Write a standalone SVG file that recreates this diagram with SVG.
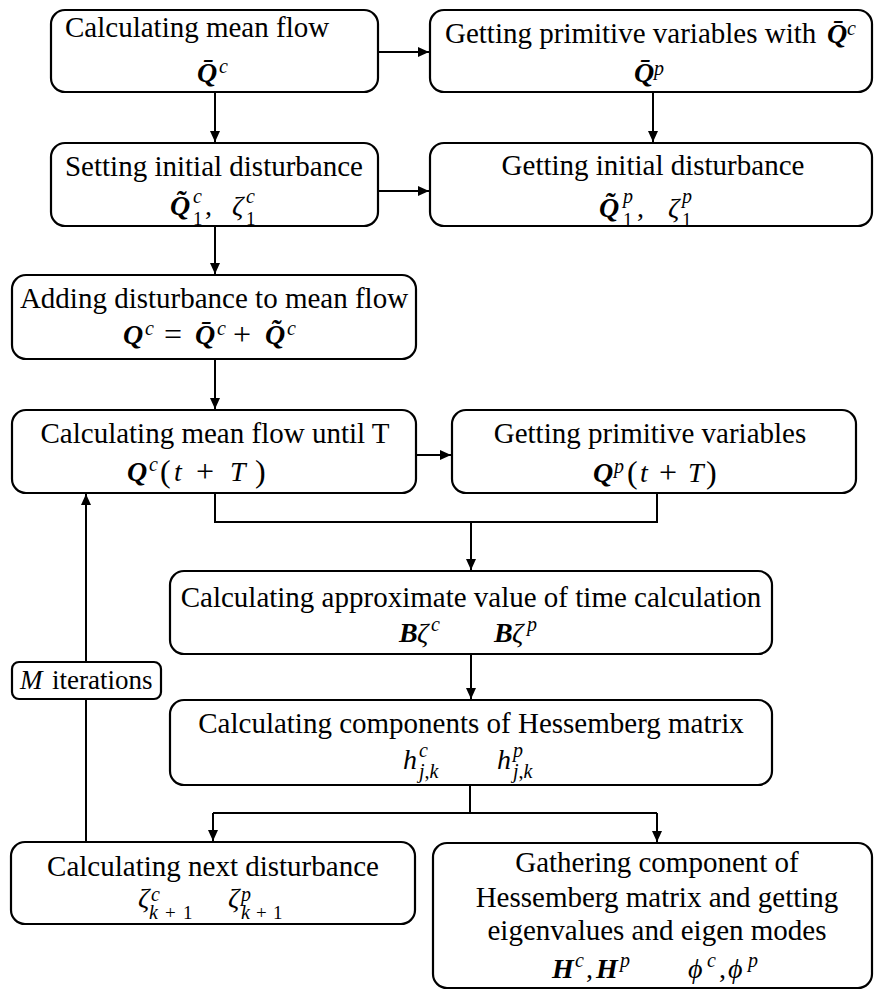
<svg xmlns="http://www.w3.org/2000/svg" width="874" height="990" viewBox="0 0 874 990">
<style>
.box{fill:#fff;stroke:#000;stroke-width:2.2}
.ln{fill:none;stroke:#000;stroke-width:2}
text{font-family:"Liberation Serif","Times New Roman",serif;fill:#000}
.t{font-size:29px}
.c{text-anchor:middle}
.m{font-size:28px;font-weight:bold;font-style:italic}
.mi{font-size:28px;font-style:italic}
.mr{font-size:28px}
.op{font-size:32px}
.s{font-size:20px;font-style:italic}
.sr{font-size:19px}
.lab{font-size:27px}
</style>
<defs>
<marker id="ah" markerUnits="userSpaceOnUse" markerWidth="12" markerHeight="10" refX="11" refY="5" orient="auto">
<path d="M0,0 L11,5 L0,10 Z" fill="#000"/>
</marker>
</defs>
<rect width="874" height="990" fill="#fff"/>

<g id="connectors">
<path class="ln" d="M378,52 H429" marker-end="url(#ah)"/>
<path class="ln" d="M215,92 V142" marker-end="url(#ah)"/>
<path class="ln" d="M653,92 V142" marker-end="url(#ah)"/>
<path class="ln" d="M378,191 H429" marker-end="url(#ah)"/>
<path class="ln" d="M215,226 V274" marker-end="url(#ah)"/>
<path class="ln" d="M215,359 V409" marker-end="url(#ah)"/>
<path class="ln" d="M416,455 H451" marker-end="url(#ah)"/>
<path class="ln" d="M215,493 V522 H657 V493"/>
<path class="ln" d="M471,522 V570" marker-end="url(#ah)"/>
<path class="ln" d="M471,654 V699" marker-end="url(#ah)"/>
<path class="ln" d="M470,785 V813"/>
<path class="ln" d="M213,813 H657"/>
<path class="ln" d="M213,813 V841" marker-end="url(#ah)"/>
<path class="ln" d="M657,813 V842" marker-end="url(#ah)"/>
<path class="ln" d="M86,842 V494" marker-end="url(#ah)"/>
</g>

<g id="n1">
<rect class="box" x="51" y="10" width="327" height="82" rx="14"/>
<text class="t" x="65" y="37">Calculating mean flow</text>
<text class="m" x="197" y="82">Q&#x304;</text><text class="s" x="219" y="73">c</text>
</g>

<g id="n2">
<rect class="box" x="430" y="10" width="442" height="82" rx="14"/>
<text class="t" x="445" y="43">Getting primitive variables with</text>
<text class="m" x="827" y="43">Q&#x304;</text><text class="s" x="847" y="35">c</text>
<text class="m" x="634" y="82">Q&#x304;</text><text class="s" x="654" y="75">p</text>
</g>

<g id="n3">
<rect class="box" x="51" y="143" width="327" height="83" rx="14"/>
<text class="t c" x="214" y="176">Setting initial disturbance</text>
<text class="m" x="170" y="215">Q&#x303;</text><text class="s" x="193" y="203">c</text><text class="sr" x="193" y="225">1</text>
<text class="mr" x="205" y="215">,</text>
<text class="mi" x="232" y="215">ζ</text><text class="s" x="246" y="203">c</text><text class="sr" x="246" y="225">1</text>
</g>

<g id="n4">
<rect class="box" x="430" y="143" width="442" height="83" rx="14"/>
<text class="t c" x="653" y="175">Getting initial disturbance</text>
<text class="m" x="599" y="217">Q&#x303;</text><text class="s" x="623" y="203">p</text><text class="sr" x="623" y="226">1</text>
<text class="mr" x="637" y="217">,</text>
<text class="mi" x="668" y="217">ζ</text><text class="s" x="682" y="203">p</text><text class="sr" x="682" y="226">1</text>
</g>

<g id="n5">
<rect class="box" x="12" y="275" width="404" height="84" rx="14"/>
<text class="t c" x="214" y="308">Adding disturbance to mean flow</text>
<text class="m" x="123" y="344">Q</text><text class="s" x="145" y="335">c</text>
<text class="op" x="164" y="345">=</text>
<text class="m" x="195" y="344">Q&#x304;</text><text class="s" x="217" y="335">c</text>
<text class="op" x="233" y="345">+</text>
<text class="m" x="265" y="344">Q&#x303;</text><text class="s" x="287" y="335">c</text>
</g>

<g id="n6">
<rect class="box" x="12" y="410" width="404" height="83" rx="14"/>
<text class="t c" x="215" y="443">Calculating mean flow until T</text>
<text class="m" x="127" y="481">Q</text><text class="s" x="149" y="471">c</text>
<text class="op" x="160" y="482">(</text>
<text class="mi" x="174" y="481">t</text>
<text class="op" x="196" y="482">+</text>
<text class="mi" x="230" y="481">T</text>
<text class="op" x="255" y="482">)</text>
</g>

<g id="n7">
<rect class="box" x="452" y="410" width="404" height="83" rx="14"/>
<text class="t c" x="650" y="443">Getting primitive variables</text>
<text class="m" x="593" y="482">Q</text><text class="s" x="614" y="473">p</text>
<text class="op" x="627" y="483">(</text>
<text class="mi" x="640" y="482">t</text>
<text class="op" x="659" y="483">+</text>
<text class="mi" x="688" y="482">T</text>
<text class="op" x="706" y="483">)</text>
</g>

<g id="n8">
<rect class="box" x="170" y="571" width="602" height="83" rx="14"/>
<text class="t c" x="471" y="607">Calculating approximate value of time calculation</text>
<text class="m" x="399" y="642">B</text><text class="mi" x="417" y="642">ζ</text><text class="s" x="431" y="631">c</text>
<text class="m" x="494" y="642">B</text><text class="mi" x="512" y="642">ζ</text><text class="s" x="527" y="631">p</text>
</g>

<g id="n9">
<rect class="box" x="170" y="700" width="602" height="85" rx="14"/>
<text class="t c" x="471" y="733">Calculating components of Hessemberg matrix</text>
<text class="mi" x="403" y="769">h</text><text class="s" x="419" y="757">c</text><text class="s" x="419" y="778">j<tspan font-style="normal">,</tspan>k</text>
<text class="mi" x="497" y="769">h</text><text class="s" x="513" y="757">p</text><text class="s" x="513" y="778">j<tspan font-style="normal">,</tspan>k</text>
</g>

<g id="n10">
<rect class="box" x="11" y="842" width="404" height="82" rx="14"/>
<text class="t c" x="213" y="876">Calculating next disturbance</text>
<text class="mi" x="138" y="907">ζ</text><text class="s" x="151" y="901">c</text>
<text class="s" x="149" y="919">k</text><text class="sr" x="165" y="919">+</text><text class="sr" x="183" y="919">1</text>
<text class="mi" x="228" y="907">ζ</text><text class="s" x="241" y="901">p</text>
<text class="s" x="241" y="919">k</text><text class="sr" x="256" y="919">+</text><text class="sr" x="273" y="919">1</text>
</g>

<g id="n11">
<rect class="box" x="433" y="843" width="439" height="145" rx="14"/>
<text class="t c" x="657" y="872">Gathering component of</text>
<text class="t c" x="657" y="907">Hessemberg matrix and getting</text>
<text class="t c" x="657" y="940">eigenvalues and eigen modes</text>
<text class="m" x="552" y="978">H</text><text class="s" x="575" y="967">c</text>
<text class="mr" x="586" y="978">,</text>
<text class="m" x="596" y="978">H</text><text class="s" x="620" y="967">p</text>
<text class="mi" x="688" y="978">ϕ</text><text class="s" x="707" y="967">c</text>
<text class="mr" x="719" y="978">,</text>
<text class="mi" x="728" y="978">ϕ</text><text class="s" x="748" y="967">p</text>
</g>

<g id="n12">
<rect class="box" x="12" y="662" width="149" height="37" rx="7"/>
<text class="lab" x="20" y="689"><tspan font-style="italic">M</tspan></text>
<text class="lab" x="52" y="689">iterations</text>
</g>
</svg>
